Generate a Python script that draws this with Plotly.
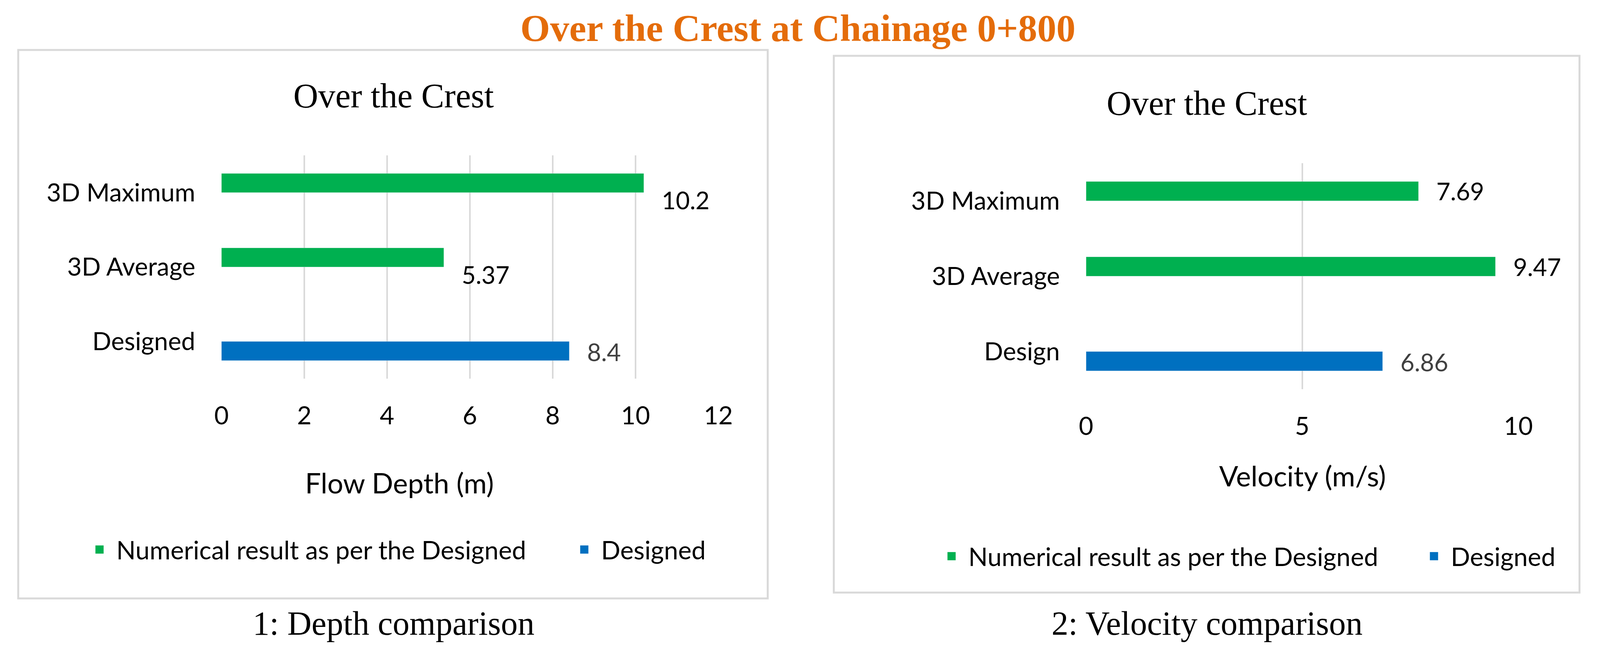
import plotly.graph_objects as go

# =============================================================================
# DATA
# =============================================================================
depth_categories = ["3D Maximum", "3D Average", "Designed"]
depth_numerical = [10.2, 5.37, None]
depth_designed = [None, None, 8.4]
depth_ticks = [0, 2, 4, 6, 8, 10, 12]

velocity_categories = ["3D Maximum", "3D Average", "Design"]
velocity_numerical = [7.69, 9.47, None]
velocity_designed = [None, None, 6.86]
velocity_ticks = [0, 5, 10]

series_names = ["Numerical result as per the Designed", "Designed"]

# =============================================================================
# STYLE / LAYOUT HELPERS
# =============================================================================
GREEN = "#00B050"
BLUE = "#0070C0"
GRID = "#D9D9D9"
ORANGE = "#E46C0A"
SANS = "Lato"
SERIF = "Liberation Serif"

# the page is viewed 4096 px wide with the default 8 px body margin,
# so the figure is sized to fit and layout positions (measured on a
# 4212 x 1660 picture) are mapped onto it
FW, FH = 4080, 1644
SX = 4096 / 4212


def px(x):
    return (x * SX - 8) / FW


def py(y):
    return 1 - (y - 8) / FH


fig = go.Figure()


def add_pair(cats, numerical, designed, xa, ya, legend, entry_w):
    # bars (legend entries come from the marker traces below,
    # they give a bigger square than the bar legend symbol)
    for vals, color in ((numerical, GREEN), (designed, BLUE)):
        fig.add_trace(go.Bar(
            y=cats, x=vals, orientation="h", marker_color=color,
            xaxis=xa, yaxis=ya, showlegend=False, hoverinfo="skip",
        ))
    for name, color, lw in zip(series_names, (GREEN, BLUE), (entry_w, None)):
        fig.add_trace(go.Scatter(
            x=[None], y=[None], mode="markers", name=name,
            marker=dict(symbol="square", size=16, color=color,
                        line=dict(color=color, width=5)),
            xaxis=xa, yaxis=ya, legend=legend, legendwidth=lw,
            hoverinfo="skip",
        ))


add_pair(depth_categories, depth_numerical, depth_designed, "x", "y", "legend", 1150)
add_pair(velocity_categories, velocity_numerical, velocity_designed, "x2", "y2", "legend2", 1144)

# --- value labels, placed from the data values ---
annotations = []


def add_labels(cats, vals, xref, yref, color, yshift):
    for c, v in zip(cats, vals):
        if v is None:
            continue
        annotations.append(dict(
            x=v, y=c, xref=xref, yref=yref, text=f"{v:g}",
            showarrow=False, xanchor="left", yanchor="middle",
            xshift=44, yshift=yshift,
            font=dict(family=SANS, size=62, color=color),
        ))


add_labels(depth_categories, depth_numerical, "x", "y", "#000000", -19)
add_labels(depth_categories, depth_designed, "x", "y", "#404040", -26)
add_labels(velocity_categories, velocity_numerical, "x2", "y2", "#000000", 25)
add_labels(velocity_categories, velocity_designed, "x2", "y2", "#404040", -26)


# --- titles and captions ---
def text(x, y, s, family, size, color="#000000", bold=False):
    annotations.append(dict(
        x=px(x), y=py(y), xref="paper", yref="paper",
        text=f"<b>{s}</b>" if bold else s, showarrow=False,
        xanchor="center", yanchor="middle",
        font=dict(family=family, size=size, color=color),
    ))


text(2100, 72, "Over the Crest at Chainage 0+800", SERIF, 98, ORANGE, bold=True)
text(1036, 246, "Over the Crest", SERIF, 88)
text(3177, 264, "Over the Crest", SERIF, 88)
text(1051, 1236, "Flow Depth (m)", SANS, 72)
text(3429, 1218, "Velocity (m/s)", SANS, 72)
text(1036, 1597, "1: Depth comparison", SERIF, 86)
text(3177, 1597, "2: Velocity comparison", SERIF, 86)

# --- chart frames ---
frame = dict(type="rect", xref="paper", yref="paper",
             line=dict(color=GRID, width=5), fillcolor="rgba(0,0,0,0)", layer="below")
shapes = [
    dict(frame, x0=px(48), x1=px(2021), y0=py(1533), y1=py(128)),
    dict(frame, x0=px(2195), x1=px(4158), y0=py(1518), y1=py(143)),
]

tickfont = dict(family=SANS, size=64, color="#000000")
xcommon = dict(showgrid=True, gridcolor=GRID, gridwidth=4, zeroline=False,
               showline=False, ticks="", ticklabelstandoff=52, tickfont=tickfont,
               fixedrange=True)
ycommon = dict(showgrid=False, zeroline=False, showline=False, ticks="",
               ticklabelstandoff=66, tickfont=tickfont, autorange="reversed",
               fixedrange=True)

legend_common = dict(orientation="h", xanchor="left", yanchor="middle",
                     font=dict(family=SANS, size=65, color="#000000"),
                     bgcolor="rgba(0,0,0,0)", traceorder="normal",
                     itemwidth=76)

fig.update_layout(
    width=FW, height=FH,
    margin=dict(l=0, r=0, t=0, b=0, autoexpand=False),
    paper_bgcolor="white", plot_bgcolor="white",
    barmode="group", bargap=0.486, bargroupgap=0,
    xaxis=dict(xcommon, domain=[px(583), px(1891)], range=[0, 12],
               tickvals=depth_ticks, anchor="y"),
    yaxis=dict(ycommon, domain=[py(970), py(398)], anchor="x",
               categoryorder="array", categoryarray=depth_categories),
    xaxis2=dict(xcommon, domain=[px(2859), px(3997)], range=[0, 10],
                tickvals=velocity_ticks, anchor="y2"),
    yaxis2=dict(ycommon, domain=[py(997), py(418)], anchor="x2",
                categoryorder="array", categoryarray=velocity_categories),
    legend=dict(legend_common, x=px(262) - 43 / FW, y=py(1408)),
    legend2=dict(legend_common, x=px(2505) - 43 / FW, y=py(1425)),
    annotations=annotations,
    shapes=shapes,
)

fig.write_html("out.html")
